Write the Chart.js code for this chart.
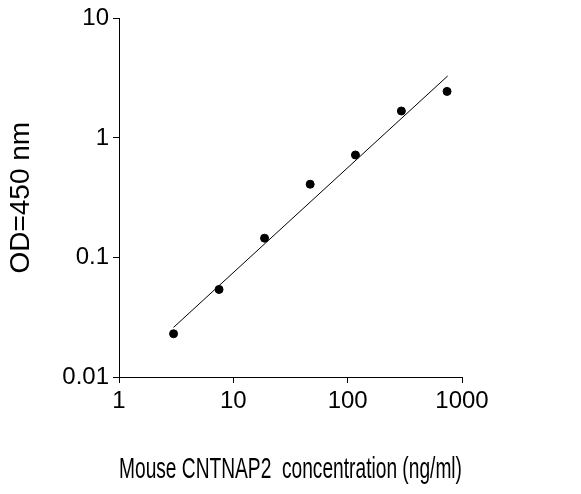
<!DOCTYPE html>
<html><head><meta charset="utf-8">
<script src="https://cdn.jsdelivr.net/npm/chart.js@4/dist/chart.umd.min.js"></script>
<style>html,body{margin:0;padding:0;background:#fff}</style>
</head><body>
<canvas id="c" width="581" height="494"></canvas>
<script>
const concX = [3, 7.5, 18.75, 47, 117, 295, 740];
const odY = [0.023, 0.054, 0.145, 0.41, 0.72, 1.68, 2.45];
const fitX = [3, 750];
const fitY = [0.026, 3.3];
const xTicks = [1, 10, 100, 1000];
const yTicks = [0.01, 0.1, 1, 10];
const xTitle = 'Mouse CNTNAP2  concentration (ng/ml)';
const yTitle = 'OD=450 nm';

const font = {family: 'Liberation Sans, Arial, sans-serif', size: 24};
new Chart(document.getElementById('c'), {
  type: 'scatter',
  data: {datasets: [
    {data: concX.map((x,i)=>({x, y: odY[i]})), backgroundColor:'#000', borderColor:'#000', pointRadius:4},
    {type:'line', data: fitX.map((x,i)=>({x, y: fitY[i]})), borderColor:'#000', borderWidth:1, pointRadius:0, fill:false}
  ]},
  options: {
    responsive:false, animation:false,
    layout:{padding:{top:10, right:119, left:0, bottom:0}},
    plugins:{legend:{display:false}, tooltip:{enabled:false}},
    scales:{
      x:{type:'logarithmic', min:1, max:1000,
        afterBuildTicks: s => { s.ticks = xTicks.map(v=>({value:v})); },
        afterFit: s => { s.height = 117; },
        ticks:{color:'#000', font, padding:4, callback:v=>String(v), maxRotation:0},
        grid:{drawOnChartArea:false, color:'#000', tickLength:6},
        border:{color:'#000', width:1},
        title:{display:true, text:xTitle, color:'#000', font:{family:font.family, size:30}, padding:{top:0,bottom:6}}
      },
      y:{type:'logarithmic', min:0.01, max:10,
        afterBuildTicks: s => { s.ticks = yTicks.map(v=>({value:v})); },
        afterFit: s => { s.width = 119; },
        ticks:{color:'#000', font, padding:4, callback:v=>String(v)},
        grid:{drawOnChartArea:false, color:'#000', tickLength:6},
        border:{color:'#000', width:1},
        title:{display:true, text:yTitle, color:'#000', font:{family:font.family, size:28}, padding:{top:4,bottom:0}}
      }
    }
  }
});
</script>
</body></html>
